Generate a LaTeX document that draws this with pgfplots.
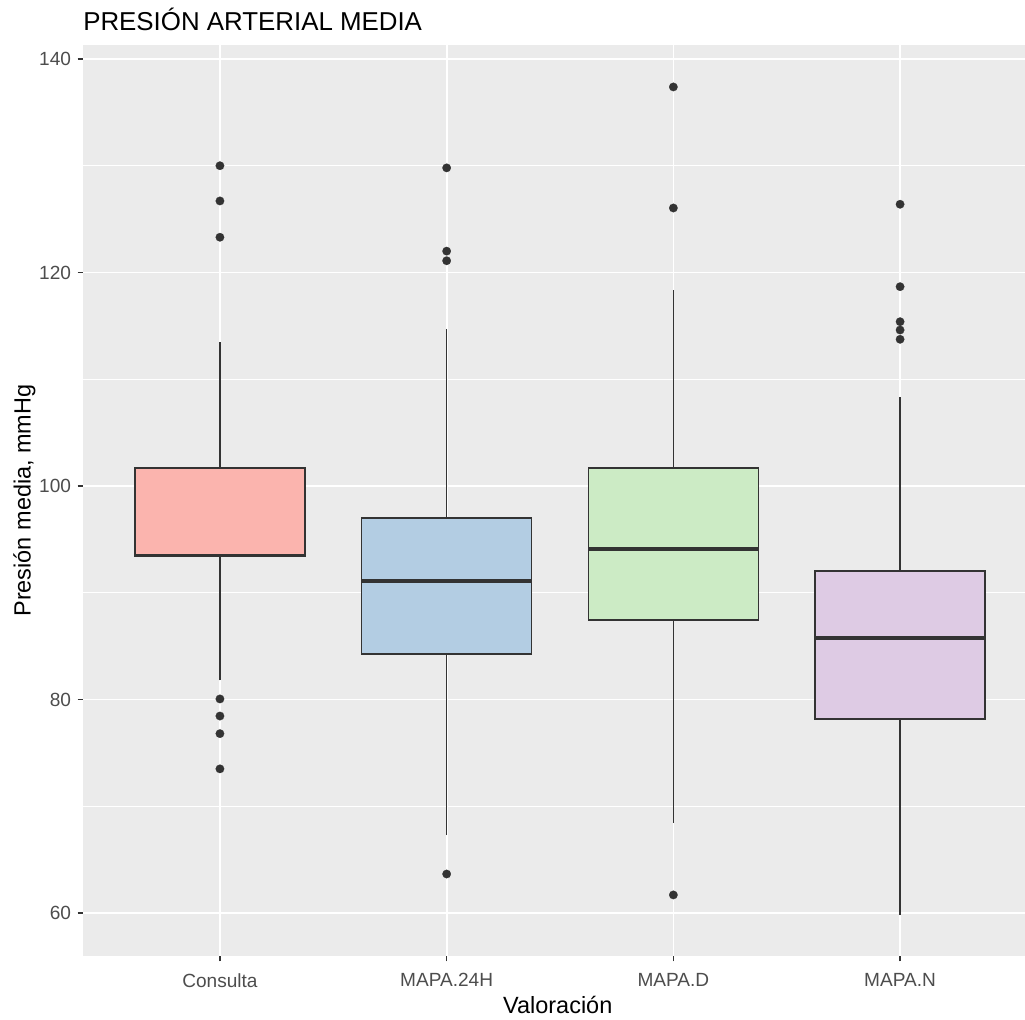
\documentclass[border=0pt]{standalone}
\usepackage{pgfplots}
\pgfplotsset{compat=1.18}
\usepackage{fontspec}
\setmainfont{Liberation Sans}
\definecolor{ggbg}{HTML}{EBEBEB}
\definecolor{gg20}{HTML}{333333}
\definecolor{gg30}{HTML}{4D4D4D}
\definecolor{fA}{HTML}{FBB4AE}
\definecolor{fB}{HTML}{B3CDE3}
\definecolor{fC}{HTML}{CCEBC5}
\definecolor{fD}{HTML}{DECBE4}
\pgfplotsset{
  wsk/.style={gg20, line width=1.1pt, forget plot},
  bx/.style={draw=gg20, fill=#1, line width=1.1pt, forget plot},
  med/.style={gg20, line width=2.4pt, forget plot},
  outl/.style={only marks, mark=*, mark size=3.2pt, mark options={draw=gg20, fill=gg20, line width=0.1pt}, forget plot},
}
\begin{document}
\begin{tikzpicture}
\path[use as bounding box] (0,0) rectangle (768.75pt,765pt);
\begin{axis}[
  at={(62.25pt,48pt)}, anchor=south west,
  scale only axis, width=706.5pt, height=683.25pt,
  xmin=0.396, xmax=4.551, ymin=55.97, ymax=141.31,
  axis background/.style={fill=ggbg},
  axis x line*=bottom, axis y line*=left,
  axis line style={draw=none},
  tick align=outside,
  major tick length=4.1pt,
  tick style={gg20, line width=1.1pt},
  minor tick style={draw=none},
  xtick={1,2,3,4},
  xticklabels={Consulta,MAPA.24H,MAPA.D,MAPA.N},
  ytick={60,80,100,120,140},
  minor ytick={70,90,110,130},
  xmajorgrids, ymajorgrids, yminorgrids,
  major grid style={white, line width=1.3pt},
  minor grid style={white, line width=0.65pt},
  /pgf/number format/assume math mode=true,
  ticklabel style={font=\fontsize{14.3}{17}\selectfont, color=gg30},
  yticklabel style={inner sep=0pt, xshift=-4.7pt},
  xticklabel style={inner sep=0pt, yshift=-8.6pt},
  title={PRESIÓN ARTERIAL MEDIA},
  title style={at={(axis description cs:0,1.0069)}, anchor=base west, inner sep=0pt, font=\fontsize{19.4}{23}\selectfont},
  xlabel={Valoración},
  xlabel style={at={(axis description cs:0.504,-0.0626)}, anchor=base, inner sep=0pt, font=\fontsize{17.6}{21}\selectfont},
  ylabel={Presión media, mmHg},
  ylabel style={at={(axis description cs:-0.0555,0.5)}, anchor=base, inner sep=0pt, font=\fontsize{17.6}{21}\selectfont},
]
% Consulta
\addplot[wsk] coordinates {(1,81.8) (1,93.4)};
\addplot[wsk] coordinates {(1,101.7) (1,113.5)};
\addplot[bx=fA] coordinates {(0.625,93.4) (1.375,93.4) (1.375,101.7) (0.625,101.7)} -- cycle;
\addplot[med] coordinates {(0.625,93.5) (1.375,93.5)};
\addplot[outl] coordinates {(1,130.0) (1,126.7) (1,123.3) (1,80.05) (1,78.45) (1,76.8) (1,73.5)};
% MAPA.24H
\addplot[wsk] coordinates {(2,67.3) (2,84.26)};
\addplot[wsk] coordinates {(2,97.0) (2,114.7)};
\addplot[bx=fB] coordinates {(1.625,84.26) (2.375,84.26) (2.375,97.0) (1.625,97.0)} -- cycle;
\addplot[med] coordinates {(1.625,91.1) (2.375,91.1)};
\addplot[outl] coordinates {(2,129.8) (2,122.0) (2,121.1) (2,63.65)};
% MAPA.D
\addplot[wsk] coordinates {(3,68.43) (3,87.45)};
\addplot[wsk] coordinates {(3,101.7) (3,118.36)};
\addplot[bx=fC] coordinates {(2.625,87.45) (3.375,87.45) (3.375,101.7) (2.625,101.7)} -- cycle;
\addplot[med] coordinates {(2.625,94.1) (3.375,94.1)};
\addplot[outl] coordinates {(3,137.38) (3,126.04) (3,61.69)};
% MAPA.N
\addplot[wsk] coordinates {(4,59.85) (4,78.17)};
\addplot[wsk] coordinates {(4,92.04) (4,108.34)};
\addplot[bx=fD] coordinates {(3.625,78.17) (4.375,78.17) (4.375,92.04) (3.625,92.04)} -- cycle;
\addplot[med] coordinates {(3.625,85.76) (4.375,85.76)};
\addplot[outl] coordinates {(4,126.39) (4,118.67) (4,115.39) (4,114.61) (4,113.74)};
\end{axis}
\end{tikzpicture}
\end{document}
